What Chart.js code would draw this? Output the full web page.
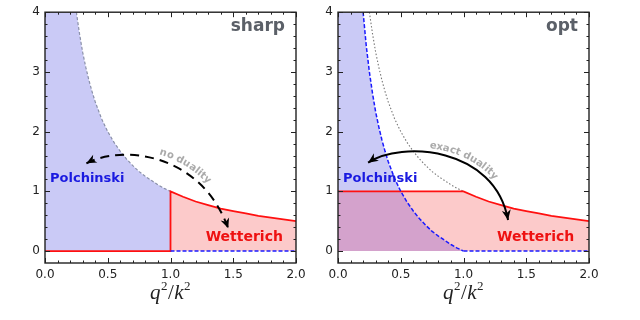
<!DOCTYPE html>
<html>
<head>
<meta charset="utf-8">
<script src="https://cdn.jsdelivr.net/npm/chart.js@4/dist/chart.umd.min.js"></script>
<style>
  html, body { margin: 0; padding: 0; background: #fff; }
  #wrap { position: relative; width: 640px; height: 320px; }
  canvas { position: absolute; top: 0; }
</style>
</head>
<body>
<div id="wrap">
  <canvas id="sharp" width="320" height="320" style="left:0"></canvas>
  <canvas id="opt" width="320" height="320" style="left:320px"></canvas>
</div>
<script>
// axis ticks
const xTicks = [0, 0.5, 1, 1.5, 2];
const xMinor = [0.1, 0.2, 0.3, 0.4, 0.6, 0.7, 0.8, 0.9, 1.1, 1.2, 1.3, 1.4, 1.6, 1.7, 1.8, 1.9];
const yTicks = [0, 1, 2, 3, 4];
const yMinor = [0.2, 0.4, 0.6, 0.8, 1.2, 1.4, 1.6, 1.8, 2.2, 2.4, 2.6, 2.8, 3.2, 3.4, 3.6, 3.8];

// 1/x curve (sharp Polchinski boundary, dotted reference in opt panel)
const xInv = [0.25, 0.275, 0.3, 0.325, 0.35, 0.375, 0.4, 0.45, 0.5, 0.55, 0.6, 0.65, 0.7, 0.75, 0.8, 0.85, 0.9, 0.95, 1.0];
const yInv = [4.00, 3.64, 3.33, 3.08, 2.86, 2.67, 2.50, 2.22, 2.00, 1.82, 1.67, 1.54, 1.43, 1.33, 1.25, 1.18, 1.11, 1.05, 1.00];

// Wetterich tail for q2/k2 > 1
const xTail = [1.0, 1.1, 1.2, 1.3, 1.4, 1.5, 1.6, 1.7, 1.8, 1.9, 2.0];
const yTail = [1.00, 0.91, 0.83, 0.77, 0.71, 0.67, 0.63, 0.59, 0.56, 0.53, 0.50];

// opt Polchinski curve
const xOptP = [0.2, 0.225, 0.25, 0.275, 0.3, 0.325, 0.35, 0.375, 0.4, 0.45, 0.5, 0.55, 0.6, 0.65, 0.7, 0.75, 0.8, 0.85, 0.9, 0.95, 1.0];
const yOptP = [4.00, 3.44, 3.00, 2.64, 2.33, 2.08, 1.86, 1.67, 1.50, 1.22, 1.00, 0.82, 0.67, 0.54, 0.43, 0.33, 0.25, 0.18, 0.11, 0.05, 0.00];

const yTop = 4;
const RED = '#ff1010', BLUE = '#1a1aff';
const FILL_BLUE = '#cacaf6', FILL_RED = '#fccaca', FILL_BOTH = '#d4a2cc';

const pts = (xs, ys) => xs.map((x, i) => ({ x: x, y: ys[i] }));

// sharp panel
const sharpDatasets = [
  { data: [{ x: 1, y: 0 }, { x: 2, y: 0 }], borderColor: BLUE, borderWidth: 1.5, borderDash: [4, 2], order: 1 },
  { data: [{ x: 0, y: 0 }, { x: 1, y: 0 }].concat(pts(xTail, yTail)), borderColor: RED, borderWidth: 1.8, order: 2 },
  { data: pts(xInv, yInv), borderColor: '#8a90a8', borderWidth: 1.2, borderDash: [3, 2], order: 3 },
  { data: pts(xTail, yTail), borderWidth: 0, backgroundColor: FILL_RED, fill: 'origin', order: 8 },
  { data: [{ x: 0, y: yTop }].concat(pts(xInv, yInv)), borderWidth: 0, backgroundColor: FILL_BLUE, fill: 'origin', order: 9 }
];

// opt panel
const optRed = [{ x: 0, y: 1 }].concat(pts(xTail, yTail));
const overlap = [{ x: 0, y: 1 }].concat(pts(xOptP, yOptP).filter(p => p.x >= 0.5));
const optDatasets = [
  { data: [{ x: 1, y: 0 }, { x: 2, y: 0 }], borderColor: BLUE, borderWidth: 1.5, borderDash: [4, 2], order: 1 },
  { data: pts(xOptP, yOptP), borderColor: BLUE, borderWidth: 1.5, borderDash: [4, 2], order: 2 },
  { data: optRed, borderColor: RED, borderWidth: 1.8, order: 3 },
  { data: pts(xInv, yInv), borderColor: '#777', borderWidth: 1.1, borderDash: [1.5, 2], order: 4 },
  { data: overlap, borderWidth: 0, backgroundColor: FILL_BOTH, fill: 'origin', order: 7 },
  { data: [{ x: 0, y: yTop }].concat(pts(xOptP, yOptP)), borderWidth: 0, backgroundColor: FILL_BLUE, fill: 'origin', order: 8 },
  { data: optRed, borderWidth: 0, backgroundColor: FILL_RED, fill: 'origin', order: 9 }
];

function bez(p, t) {
  const u = 1 - t;
  const b = [u * u * u, 3 * u * u * t, 3 * u * t * t, t * t * t];
  return [0, 1].map(k => b[0] * p[0][k] + b[1] * p[1][k] + b[2] * p[2][k] + b[3] * p[3][k]);
}

function drawArrow(ctx, p, dash) {
  ctx.save();
  ctx.strokeStyle = '#000';
  ctx.fillStyle = '#000';
  ctx.lineWidth = 2;
  ctx.setLineDash(dash || []);
  ctx.beginPath();
  ctx.moveTo(p[0][0], p[0][1]);
  ctx.bezierCurveTo(p[1][0], p[1][1], p[2][0], p[2][1], p[3][0], p[3][1]);
  ctx.stroke();
  ctx.setLineDash([]);
  const head = (tip, from) => {
    const ang = Math.atan2(tip[1] - from[1], tip[0] - from[0]);
    const L = 10, W = 4.5;
    ctx.beginPath();
    ctx.moveTo(tip[0], tip[1]);
    ctx.lineTo(tip[0] - L * Math.cos(ang) + W * Math.sin(ang), tip[1] - L * Math.sin(ang) - W * Math.cos(ang));
    ctx.lineTo(tip[0] - L * 0.7 * Math.cos(ang), tip[1] - L * 0.7 * Math.sin(ang));
    ctx.lineTo(tip[0] - L * Math.cos(ang) - W * Math.sin(ang), tip[1] - L * Math.sin(ang) + W * Math.cos(ang));
    ctx.closePath();
    ctx.fill();
  };
  head(p[0], p[1]);
  head(p[3], p[2]);
  ctx.restore();
}

// text that follows the arrow arc, offset to its outer side
function textOnArc(ctx, p, note) {
  const N = 400, table = [[0, 0]];
  let prev = bez(p, 0), s = 0;
  for (let i = 1; i <= N; i++) {
    const q = bez(p, i / N);
    s += Math.hypot(q[0] - prev[0], q[1] - prev[1]);
    table.push([i / N, s]);
    prev = q;
  }
  const tAt = len => {
    for (let i = 1; i < table.length; i++) if (table[i][1] >= len) return table[i][0];
    return 1;
  };
  const sCenter = table[Math.round(note.t * N)][1];
  ctx.save();
  ctx.font = 'bold 10px "DejaVu Sans"';
  ctx.fillStyle = '#aaaaaa';
  ctx.textAlign = 'center';
  ctx.textBaseline = 'middle';
  const widths = [...note.text].map(c => ctx.measureText(c).width - 0.2);
  const total = widths.reduce((a, b) => a + b, 0);
  let cur = sCenter - total / 2;
  [...note.text].forEach((c, i) => {
    const sm = cur + widths[i] / 2;
    const t = tAt(sm);
    const q = bez(p, t), q2 = bez(p, Math.min(1, t + 0.002)), q1 = bez(p, Math.max(0, t - 0.002));
    const tx = q2[0] - q1[0], ty = q2[1] - q1[1], n = Math.hypot(tx, ty);
    const ux = tx / n, uy = ty / n;
    ctx.save();
    ctx.translate(q[0] + uy * note.off, q[1] - ux * note.off);
    ctx.rotate(Math.atan2(uy, ux));
    ctx.fillText(c, 0, 0);
    ctx.restore();
    cur += widths[i];
  });
  ctx.restore();
}

const panelPlugin = {
  id: 'panel',
  afterDatasetsDraw(chart, args, o) {
    const ctx = chart.ctx, a = chart.chartArea;
    const sx = chart.scales.x, sy = chart.scales.y;
    ctx.save();
    // frame + inward ticks on all sides
    ctx.strokeStyle = '#222';
    ctx.lineWidth = 1;
    const tick = (vals, len) => {
      vals.forEach(v => {
        const px = Math.round(sx.getPixelForValue(v)) + 0.5;
        ctx.beginPath();
        ctx.moveTo(px, a.bottom); ctx.lineTo(px, a.bottom - len);
        ctx.moveTo(px, a.top); ctx.lineTo(px, a.top + len);
        ctx.stroke();
      });
    };
    const tickY = (vals, len) => {
      vals.forEach(v => {
        const py = Math.round(sy.getPixelForValue(v)) + 0.5;
        ctx.beginPath();
        ctx.moveTo(a.left, py); ctx.lineTo(a.left + len, py);
        ctx.moveTo(a.right, py); ctx.lineTo(a.right - len, py);
        ctx.stroke();
      });
    };
    tick(xTicks, 5); tick(xMinor, 2.5);
    tickY(yTicks, 5); tickY(yMinor, 2.5);
    ctx.lineWidth = 1.4;
    ctx.strokeRect(a.left, a.top, a.right - a.left, a.bottom - a.top);

    // arrow with its note
    const p = o.arrow.path.map(q => [sx.getPixelForValue(q[0]), sy.getPixelForValue(q[1])]);
    drawArrow(ctx, p, o.arrow.dash);
    textOnArc(ctx, p, o.note);

    // labels
    ctx.textBaseline = 'middle';
    ctx.textAlign = 'left';
    ctx.font = 'bold 13px "DejaVu Sans"';
    ctx.fillStyle = '#1a1ae0';
    ctx.fillText('Polchinski', sx.getPixelForValue(0.04), sy.getPixelForValue(1.22));
    ctx.font = 'bold 14px "DejaVu Sans"';
    ctx.fillStyle = '#ee1111';
    ctx.fillText('Wetterich', sx.getPixelForValue(o.wettX), sy.getPixelForValue(0.23));

    ctx.textAlign = 'right';
    ctx.textBaseline = 'alphabetic';
    ctx.font = 'bold 17px "DejaVu Sans"';
    ctx.fillStyle = '#5b6068';
    ctx.fillText(o.title, a.right - 11, a.top + 19);

    // x axis title q^2/k^2
    const parts = [
      ['q', 'italic 21px "Liberation Serif"', 0],
      ['2', '13px "Liberation Serif"', -9],
      ['/', '21px "Liberation Serif"', 0],
      ['k', 'italic 21px "Liberation Serif"', 0],
      ['2', '13px "Liberation Serif"', -9]
    ];
    let w = 0;
    parts.forEach(q => { ctx.font = q[1]; w += ctx.measureText(q[0]).width + 0.5; });
    let cx = (a.left + a.right) / 2 - w / 2;
    ctx.textAlign = 'left';
    ctx.fillStyle = '#222';
    parts.forEach(q => {
      ctx.font = q[1];
      ctx.fillText(q[0], cx, 299 + q[2]);
      cx += ctx.measureText(q[0]).width + 0.5;
    });
    ctx.restore();
  }
};

function makeChart(id, datasets, yWidth, padRight, panel) {
  return new Chart(document.getElementById(id), {
    type: 'line',
    data: { datasets: datasets },
    options: {
      responsive: false,
      animation: false,
      devicePixelRatio: 1,
      layout: { padding: { left: 0, right: padRight, top: 11, bottom: 0 } },
      elements: { point: { radius: 0 }, line: { tension: 0 } },
      plugins: { legend: { display: false }, tooltip: { enabled: false }, panel: panel },
      scales: {
        x: {
          type: 'linear', min: 0, max: 2,
          grid: { display: false, drawTicks: false }, border: { display: false },
          afterBuildTicks: s => { s.ticks = xTicks.map(v => ({ value: v })); },
          afterFit: s => { s.height = 57; },
          ticks: { callback: v => v.toFixed(1), color: '#222', font: { family: 'DejaVu Sans', size: 12 }, padding: 5, maxRotation: 0, autoSkip: false }
        },
        y: {
          type: 'linear', min: -0.2, max: 4,
          grid: { display: false, drawTicks: false }, border: { display: false },
          afterBuildTicks: s => { s.ticks = yTicks.map(v => ({ value: v })); },
          afterFit: s => { s.width = yWidth; },
          ticks: { color: '#222', font: { family: 'DejaVu Sans', size: 12 }, padding: 5 }
        }
      }
    },
    plugins: [panelPlugin]
  });
}

makeChart('sharp', sharpDatasets, 45, 24, {
  title: 'sharp', wettX: 1.28,
  note: { text: 'no duality', t: 0.64, off: 8 },
  arrow: { path: [[0.33, 1.47], [0.6, 1.77], [1.235, 1.68], [1.46, 0.38]], dash: [9, 6] }
});
makeChart('opt', optDatasets, 18, 51, {
  title: 'opt', wettX: 1.267,
  note: { text: 'exact duality', t: 0.6, off: 7 },
  arrow: { path: [[0.24, 1.48], [0.5, 1.85], [1.25, 1.75], [1.355, 0.52]] }
});
</script>
</body>
</html>
